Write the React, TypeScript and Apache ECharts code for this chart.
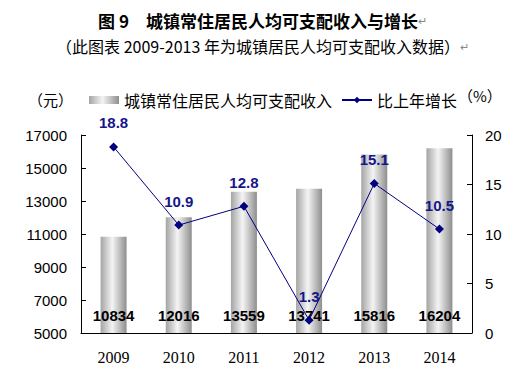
import React, { useEffect, useRef } from "react";
import * as echarts from "echarts";

const years = ["2009", "2010", "2011", "2012", "2013", "2014"];
const income = [10834, 12016, 13559, 13741, 15816, 16204];
const growth = [18.8, 10.9, 12.8, 1.3, 15.1, 10.5];
const incomeName = "城镇常住居民人均可支配收入";
const growthName = "比上年增长";
const titleText = "图 9　城镇常住居民人均可支配收入与增长";
const subtitleText = "（此图表 2009-2013 年为城镇居民人均可支配收入数据）";

const CJK = '"Noto Sans CJK SC", "Noto Sans", sans-serif';
const SANS = '"Liberation Sans", Arial, sans-serif';
const SERIF = '"Liberation Serif", "DejaVu Serif", serif';

export default function App() {
  const ref = useRef<HTMLDivElement>(null);
  useEffect(() => {
    if (!ref.current) return;
    const chart = echarts.init(ref.current, undefined, { renderer: "svg" });
    const barGradient = new echarts.graphic.LinearGradient(0, 0, 1, 0, [
      { offset: 0, color: "#a4a4a4" },
      { offset: 0.45, color: "#f4f4f4" },
      { offset: 1, color: "#8e8e8e" },
    ]);
    chart.setOption({
      animation: false,
      backgroundColor: "#ffffff",
      graphic: [
        {
          type: "text",
          left: "center",
          top: 12,
          style: {
            text: "{t|" + titleText + "}{r|↵}",
            rich: {
              t: { fontFamily: CJK, fontSize: 17, fontWeight: "bold", fill: "#000" },
              r: { fontFamily: CJK, fontSize: 11, fill: "#888" },
            },
          },
        },
        {
          type: "text",
          left: "center",
          top: 38,
          style: {
            text: "{t|" + subtitleText + "}{r|↵}",
            rich: {
              t: { fontFamily: CJK, fontSize: 16, fill: "#000" },
              r: { fontFamily: CJK, fontSize: 11, fill: "#888" },
            },
          },
        },
        {
          type: "text",
          left: 28,
          top: 92,
          style: { text: "（元）", fontFamily: CJK, fontSize: 15, fill: "#000" },
        },
        {
          type: "text",
          left: 458,
          top: 88,
          style: { text: "（%）", fontFamily: CJK, fontSize: 15, fill: "#000" },
        },
      ],
      legend: {
        left: 89,
        top: 92,
        padding: 0,
        itemWidth: 30,
        itemHeight: 8,
        itemGap: 9,
        textStyle: { fontFamily: CJK, fontSize: 16, color: "#000" },
        data: [
          { name: incomeName, icon: "rect", itemStyle: { color: barGradient } },
          { name: growthName },
        ],
      },
      grid: { left: 81, right: 53, top: 135, bottom: 49 },
      xAxis: {
        type: "category",
        data: years,
        boundaryGap: true,
        axisLine: { lineStyle: { color: "#000", width: 1 } },
        axisTick: { inside: true, length: 5, lineStyle: { color: "#000" } },
        axisLabel: { fontFamily: SERIF, fontSize: 16, color: "#000", margin: 16 },
      },
      yAxis: [
        {
          type: "value",
          min: 5000,
          max: 17000,
          interval: 2000,
          axisLine: { show: true, lineStyle: { color: "#000", width: 1 } },
          axisTick: { show: true, inside: true, length: 5, lineStyle: { color: "#000" } },
          axisLabel: {
            fontFamily: SANS,
            fontSize: 15,
            color: "#000",
            margin: 14,
            formatter: (v: number) => String(v),
          },
          splitLine: { show: false },
        },
        {
          type: "value",
          min: 0,
          max: 20,
          interval: 5,
          position: "right",
          axisLine: { show: true, lineStyle: { color: "#000", width: 1 } },
          axisTick: { show: true, inside: true, length: 5, lineStyle: { color: "#000" } },
          axisLabel: { fontFamily: SANS, fontSize: 15, color: "#000", margin: 13 },
          splitLine: { show: false },
        },
      ],
      series: [
        {
          name: incomeName,
          type: "bar",
          data: income,
          barWidth: 26,
          yAxisIndex: 0,
          itemStyle: { color: barGradient },
          label: {
            show: true,
            position: "insideBottom",
            distance: 10,
            fontFamily: SANS,
            fontSize: 15,
            fontWeight: "bold",
            color: "#000",
          },
        },
        {
          name: growthName,
          type: "line",
          data: growth,
          yAxisIndex: 1,
          symbol: "diamond",
          symbolSize: 9,
          lineStyle: { color: "#000080", width: 1 },
          itemStyle: { color: "#000080" },
          label: {
            show: true,
            position: "top",
            distance: 12,
            fontFamily: SANS,
            fontSize: 15,
            fontWeight: "bold",
            color: "#16168a",
          },
        },
      ],
    });
    return () => chart.dispose();
  }, []);
  return <div ref={ref} style={{ width: 525, height: 382, margin: -8 }} />;
}
